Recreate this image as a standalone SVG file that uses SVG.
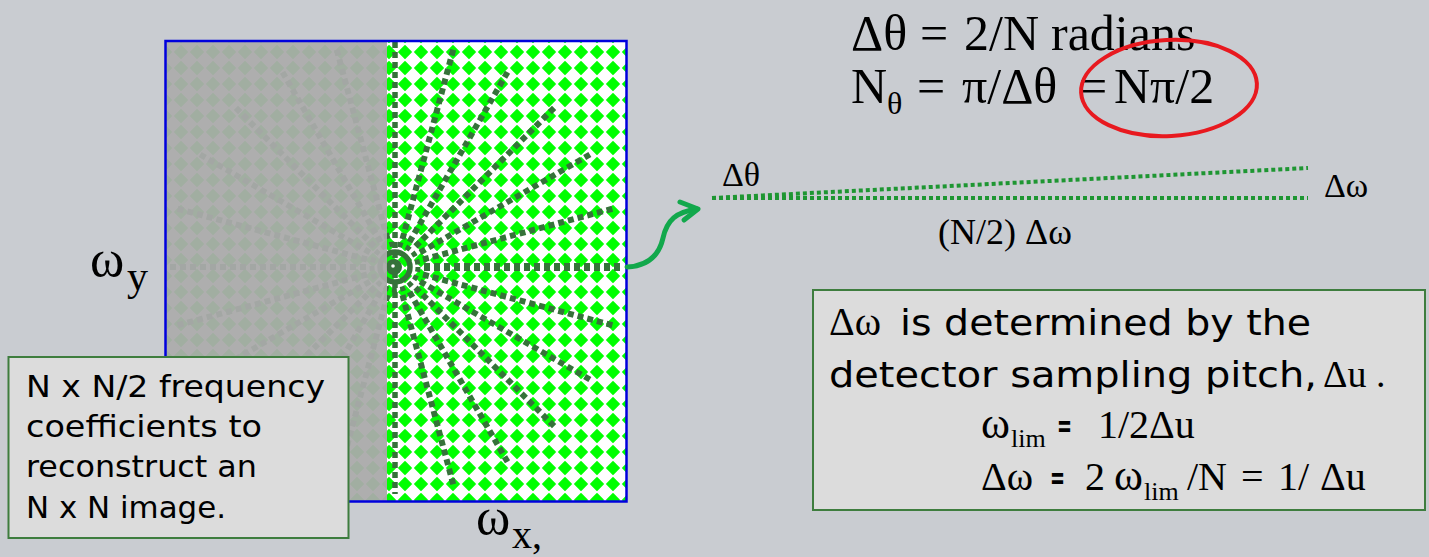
<svg xmlns="http://www.w3.org/2000/svg" width="1429" height="557" viewBox="0 0 1429 557">
<style>
.serif{font-family:"Liberation Serif","Times New Roman",serif;fill:#000}
.comic{font-family:"DejaVu Sans","Liberation Sans",sans-serif;fill:#000}
.box{fill:#dcdcdc;stroke:#3e7d3e;stroke-width:2}
.dot{fill:none;stroke:#1e9632;stroke-width:4;stroke-dasharray:4 3}
.eq{font-family:"DejaVu Sans","Liberation Sans",sans-serif;font-weight:bold;font-size:32px;fill:#000}
</style>
<defs>
<pattern id="dia" x="397" y="44" width="16" height="16" patternUnits="userSpaceOnUse">
<rect width="16" height="16" fill="#ffffff"/>
<polygon points="8,1.8 14.2,8 8,14.2 1.8,8" fill="#00ff00" stroke="#00ff00" stroke-width="1.5" stroke-linejoin="round"/>
</pattern>
<clipPath id="clipR"><rect x="166" y="42" width="460" height="459"/></clipPath>
<line id="ray" x1="424" y1="267" x2="622" y2="267"/>
</defs>
<rect width="1429" height="557" fill="#c9ccd1"/>

<g id="spectrum">
<g clip-path="url(#clipR)">
<rect x="166" y="42" width="460" height="459" fill="url(#dia)"/>
<g id="rays" stroke="#36723a" fill="none" stroke-width="6" stroke-dasharray="6 4">
<line x1="424" y1="267" x2="622" y2="267" stroke-width="8"/>
<use href="#ray" transform="rotate(-15 395 267)"/>
<use href="#ray" transform="rotate(-30 395 267)"/>
<use href="#ray" transform="rotate(-45 395 267)"/>
<use href="#ray" transform="rotate(-60 395 267)"/>
<use href="#ray" transform="rotate(-75 395 267)"/>
<use href="#ray" transform="rotate(15 395 267)"/>
<use href="#ray" transform="rotate(30 395 267)"/>
<use href="#ray" transform="rotate(45 395 267)"/>
<use href="#ray" transform="rotate(60 395 267)"/>
<use href="#ray" transform="rotate(75 395 267)"/>
<use href="#ray" transform="rotate(105 395 267)"/>
<use href="#ray" transform="rotate(120 395 267)"/>
<use href="#ray" transform="rotate(135 395 267)"/>
<use href="#ray" transform="rotate(150 395 267)"/>
<use href="#ray" transform="rotate(165 395 267)"/>
<use href="#ray" transform="rotate(180 395 267)"/>
<use href="#ray" transform="rotate(195 395 267)"/>
<use href="#ray" transform="rotate(210 395 267)"/>
<use href="#ray" transform="rotate(225 395 267)"/>
<use href="#ray" transform="rotate(240 395 267)"/>
<use href="#ray" transform="rotate(255 395 267)"/>
<line x1="395" y1="42" x2="395" y2="494" stroke-width="5.5"/>
<circle cx="395" cy="267" r="23" stroke-width="5" stroke-dasharray="5 3.5"/>
<circle cx="395" cy="267" r="15" stroke-width="5.5" stroke-dasharray="none"/>
</g>
<circle cx="394" cy="267" r="8" fill="#36723a"/>
<circle cx="393" cy="266" r="1.8" fill="#ffffff"/>
<rect x="166" y="42" width="221" height="459" fill="#aaaaaa" opacity="0.95"/>
</g>
<rect x="165.5" y="41" width="461" height="460.5" fill="none" stroke="#0000dd" stroke-width="2.5"/>
</g>

<g id="label-wy">
<text class="serif" x="90" y="276" font-size="52">ω</text>
<text class="serif" x="127" y="290" font-size="42">y</text>
</g>
<g id="label-wx">
<text class="serif" x="476" y="534" font-size="52">ω</text>
<text class="serif" x="512" y="548" font-size="40">x,</text>
</g>

<g id="note-left">
<rect class="box" x="8.5" y="357" width="340" height="181"/>
<text class="comic" x="26" y="397" font-size="30" textLength="299" lengthAdjust="spacingAndGlyphs">N x N/2 frequency</text>
<text class="comic" x="26" y="437" font-size="30" textLength="236" lengthAdjust="spacingAndGlyphs">coefficients to</text>
<text class="comic" x="26" y="477" font-size="30" textLength="231" lengthAdjust="spacingAndGlyphs">reconstruct an</text>
<text class="comic" x="26" y="518" font-size="30" textLength="200" lengthAdjust="spacingAndGlyphs">N x N image.</text>
</g>

<g id="equations">
<text class="serif" y="50" font-size="50"><tspan x="851">Δθ</tspan><tspan x="920">=</tspan><tspan x="964">2/N</tspan><tspan x="1051">radians</tspan></text>
<text class="serif" y="103" font-size="50"><tspan x="851">N</tspan><tspan x="917">=</tspan><tspan x="962">π/Δθ</tspan><tspan x="1079">=</tspan><tspan x="1114">Nπ/2</tspan></text>
<text class="serif" x="887" y="114" font-size="32">θ</text>
<ellipse cx="1169" cy="88" rx="88" ry="48" fill="none" stroke="#e8191f" stroke-width="4" transform="rotate(-3 1169 88)"/>
</g>

<g id="connectors">
<path d="M627,267 C648,266 659,256 663,238 C667,220 676,212 697,209" fill="none" stroke="#12a84c" stroke-width="5" stroke-linecap="round"/>
<polyline points="680,202 698,209 684,220" fill="none" stroke="#12a84c" stroke-width="5" stroke-linecap="round" stroke-linejoin="round"/>
</g>

<g id="angle-sketch">
<line class="dot" x1="712" y1="198" x2="1308" y2="168"/>
<line class="dot" x1="712" y1="198" x2="1308" y2="198"/>
<text class="serif" x="722" y="186" font-size="34">Δθ</text>
<text class="serif" x="1324" y="197" font-size="34">Δω</text>
<text class="serif" x="938" y="244" font-size="36">(N/2) Δω</text>
</g>

<g id="note-right">
<rect class="box" x="813" y="290" width="612" height="220"/>
<text class="serif" x="829" y="335" font-size="40">Δω</text>
<text class="comic" x="900" y="335" font-size="36" textLength="411" lengthAdjust="spacingAndGlyphs">is determined by the</text>
<text class="comic" x="829" y="387" font-size="36" textLength="488" lengthAdjust="spacingAndGlyphs">detector sampling pitch,</text>
<text class="serif" x="1323" y="387" font-size="38">Δu .</text>
<text class="serif" x="981" y="438" font-size="44">ω</text>
<text class="serif" x="1011" y="447" font-size="26">lim</text>
<text class="eq" x="1057" y="437" textLength="15" lengthAdjust="spacingAndGlyphs">=</text>
<text class="serif" x="1098" y="438" font-size="40">1/2Δu</text>
<text class="serif" x="981" y="490" font-size="40">Δω</text>
<text class="eq" x="1050" y="489" textLength="15" lengthAdjust="spacingAndGlyphs">=</text>
<text class="serif" x="1085" y="490" font-size="40">2</text>
<text class="serif" x="1114" y="490" font-size="44">ω</text>
<text class="serif" x="1144" y="500" font-size="26">lim</text>
<text class="serif" x="1187" y="490" font-size="40">/N</text>
<text class="serif" x="1241" y="490" font-size="40">=</text>
<text class="serif" x="1278" y="490" font-size="40">1/</text>
<text class="serif" x="1320" y="490" font-size="40">Δu</text>
</g>
</svg>
